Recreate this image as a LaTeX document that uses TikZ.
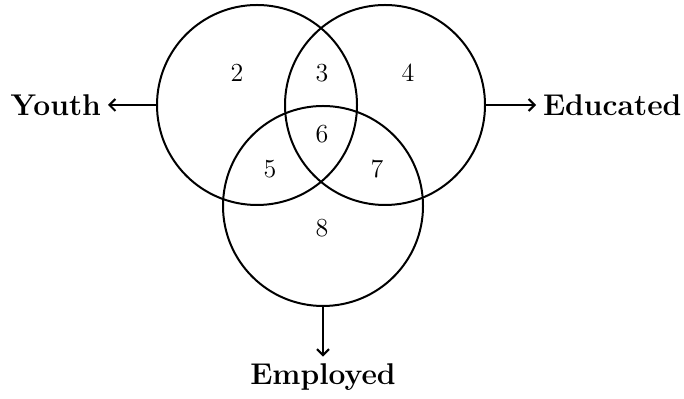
\documentclass[tikz,border=0pt]{standalone}
\usetikzlibrary{arrows.meta}
\begin{document}
\begin{tikzpicture}[x=0.5pt, y=-0.5pt,
   setc/.style={draw, circle, line width=1pt, minimum size=100pt, inner sep=0pt},
   num/.style={font=\fontsize{13}{15}\selectfont},
   lbl/.style={font=\fontsize{15}{17}\selectfont\bfseries},
   fl/.style={-{Straight Barb[length=3pt,width=6pt]}, line width=1pt}]
  \useasboundingbox (0,0) rectangle (684,399);
  \node[setc] (youth) at (257,105) {};
  \node[setc] (educ)  at (385,105) {};
  \node[setc] (empl)  at (323,206) {};
  % region numbers
  \foreach \n/\x/\y in {2/237/73, 3/322/73, 4/408/73, 6/322/134, 5/270/169, 7/377/169, 8/322/228}
    {\node[num] (r\n) at (\x,\y) {\n};}
  \node[lbl, anchor=east] (ty) at (108,105) {Youth};
  \node[lbl, anchor=west] (te) at (536,105) {Educated};
  \node[lbl] (tm) at (323,377) {Employed};
  \draw[fl] (youth.west) -- (ty.east);
  \draw[fl] (educ.east) -- (te.west);
  \draw[fl] (empl.south) -- (tm.north);
\end{tikzpicture}
\end{document}
